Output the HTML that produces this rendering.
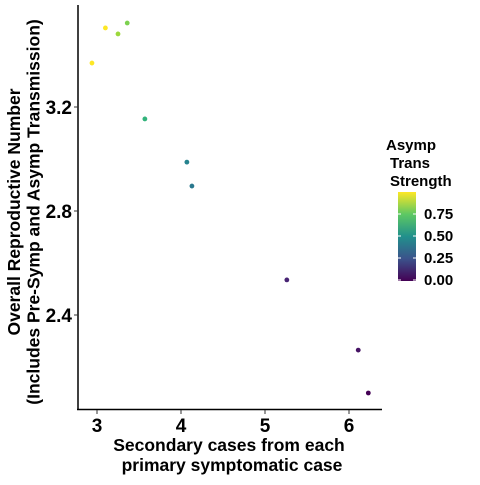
<!DOCTYPE html>
<html><head><meta charset="utf-8"><style>
body{margin:0;background:#fff}
svg text{font-family:"Liberation Sans",Arial,sans-serif;font-weight:bold}
</style></head><body>
<svg id="chart" width="480" height="480">
<defs><linearGradient id="vir" x1="0" y1="1" x2="0" y2="0">
<stop offset="0" stop-color="#440154"/><stop offset="0.25" stop-color="#3b528b"/>
<stop offset="0.5" stop-color="#21908c"/><stop offset="0.75" stop-color="#5dc863"/>
<stop offset="1" stop-color="#fde725"/></linearGradient></defs>
<g id="axes"></g><g id="points"></g>
<text x="229" y="451" font-size="17.5" text-anchor="middle">Secondary cases from each</text>
<text x="232" y="471" font-size="17.5" text-anchor="middle">primary symptomatic case</text>
<g transform="translate(20,212) rotate(-90)">
<text x="0" y="0" font-size="17.5" text-anchor="middle">Overall Reproductive Number</text>
<text x="0" y="19.5" font-size="17.5" text-anchor="middle">(Includes Pre-Symp and Asymp Transmission)</text></g>
<g>
<text x="386" y="150" font-size="15">Asymp</text>
<text x="390" y="168" font-size="15">Trans</text>
<text x="390" y="186" font-size="15">Strength</text>
<rect x="398" y="192" width="18" height="89" fill="url(#vir)"/>
<g id="legticks"></g></g>
</svg>
<script>
const xs=[2.94,3.10,3.25,3.36,3.57,4.07,4.13,5.26,6.11,6.23];
const ys=[3.369,3.504,3.481,3.523,3.154,2.988,2.896,2.535,2.265,2.100];
const strength=[1.0,1.0,0.85,0.8,0.65,0.45,0.4,0.1,0.05,0.0];
const xTicks=[3,4,5,6];
const yTicks=[2.4,2.8,3.2];
const legTicks=[0,0.25,0.5,0.75];
const X=v=>97+(v-3)*84, Y=v=>107-(v-3.2)*260, L=v=>280-v*88;
const vir=["#440154","#482878","#3e4989","#31688e","#26828e","#1f9e89","#35b779","#6ece58","#b5de2b","#fde725"];
function col(t){const f=t*(vir.length-1),i=Math.min(Math.floor(f),vir.length-2),r=f-i;
const a=vir[i],b=vir[i+1],p=(s,k)=>parseInt(s.substr(k,2),16);
return "rgb("+[1,3,5].map(k=>Math.round(p(a,k)+(p(b,k)-p(a,k))*r)).join(",")+")";}
const NS="http://www.w3.org/2000/svg";
function mk(tag,at,parent,txt){const e=document.createElementNS(NS,tag);for(const k in at)e.setAttribute(k,at[k]);if(txt!=null)e.textContent=txt;document.getElementById(parent).appendChild(e);return e;}
let e=mk("line",{x1:78,y1:5,x2:78,y2:410,stroke:"#000","stroke-width":1.5},"axes");


e=mk("line",{x1:77,y1:409.5,x2:382,y2:409.5,stroke:"#000","stroke-width":1.5},"axes");


xTicks.forEach(t=>{mk("line",{x1:X(t),x2:X(t),y1:410,y2:414,stroke:"#333"},"axes");
e=mk("text",{x:X(t),y:432,"font-size":19,"text-anchor":"middle"},"axes",t);

});
yTicks.forEach(t=>{mk("line",{x1:74,x2:78,y1:Y(t),y2:Y(t),stroke:"#333"},"axes");
e=mk("text",{x:72,y:Y(t)+7,"font-size":19,"text-anchor":"end"},"axes",t.toFixed(1));

});
xs.forEach((x,i)=>{e=mk("circle",{cx:X(x),cy:Y(ys[i]),r:2.4,fill:col(strength[i])},"points");

});
legTicks.forEach(t=>{mk("line",{x1:398,x2:401,y1:L(t),y2:L(t),stroke:"#fff"},"legticks");
mk("line",{x1:413,x2:416,y1:L(t),y2:L(t),stroke:"#fff"},"legticks");
e=mk("text",{x:424,y:L(t)+5,"font-size":15},"legticks",t.toFixed(2));

});
</script>
</body></html>
